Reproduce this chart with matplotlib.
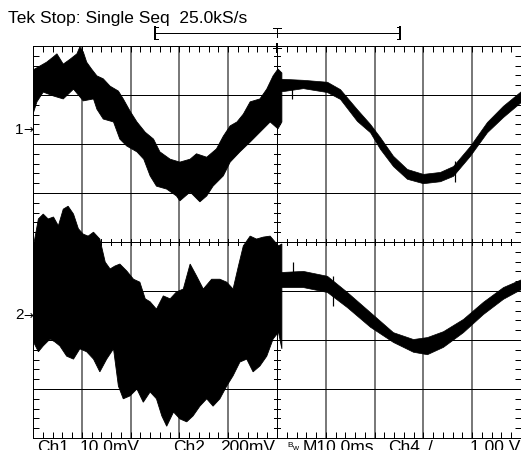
import matplotlib
matplotlib.use("Agg")
import matplotlib.pyplot as plt
import numpy as np
from matplotlib.lines import Line2D

# ---------------- data (time in ms, amplitude in screen divisions) ----------------
# Channel 1, noisy part (left half): upper and lower envelope
ch1_top_t = [-50.0, -48.6, -47.2, -45.8, -45.1, -43.8, -42.4, -41.0, -40.4, -39.7, -39.0,
             -38.0, -36.9, -35.6, -34.2, -32.5, -31.5, -30.1, -28.7, -27.0, -25.3, -24.0,
             -21.9, -19.9, -17.8, -16.5, -14.4, -12.4, -11.0, -9.6, -8.2, -6.9, -5.5,
             -3.5, -2.1, -0.8, 0.2, 1.0]
ch1_top_v = [3.51, 3.59, 3.67, 3.78, 3.84, 3.63, 3.73, 3.84, 3.98, 3.88, 3.67,
             3.53, 3.39, 3.33, 3.18, 3.08, 2.92, 2.67, 2.45, 2.24, 2.10, 1.84,
             1.69, 1.63, 1.69, 1.80, 1.73, 1.90, 2.16, 2.37, 2.45, 2.61, 2.86,
             2.92, 3.12, 3.39, 3.53, 3.45]
ch1_bot_t = [-50.0, -49.2, -47.9, -45.8, -43.8, -41.7, -39.7, -37.6, -36.9, -35.6, -33.5,
             -32.2, -30.8, -28.7, -27.3, -26.0, -24.7, -22.6, -20.6, -19.9, -17.8, -15.8,
             -14.4, -13.1, -11.0, -9.6, -7.6, -5.5, -3.5, -1.4, 0.2, 1.0]
ch1_bot_v = [2.61, 2.86, 3.06, 2.98, 2.92, 3.12, 2.88, 2.92, 2.71, 2.51, 2.45,
             2.10, 1.96, 1.84, 1.69, 1.35, 1.14, 1.08, 0.94, 0.84, 1.02, 0.82,
             0.94, 1.14, 1.35, 1.63, 1.84, 2.04, 2.24, 2.45, 2.31, 2.45]
# Channel 1, clean part (right half): band
ch1_clean_t = [0.6, 1.23, 5.33, 10.25, 12.91, 16.39, 19.06, 21.11, 23.77, 26.64, 29.92,
               33.40, 36.07, 39.55, 43.03, 46.31, 50.0]
ch1_clean_hi = [3.33, 3.33, 3.31, 3.27, 3.12, 2.71, 2.41, 2.14, 1.76, 1.49, 1.39,
                1.43, 1.55, 1.96, 2.45, 2.78, 3.08]
ch1_clean_lo = [3.08, 3.08, 3.14, 3.06, 2.92, 2.47, 2.24, 1.90, 1.55, 1.29, 1.20,
                1.24, 1.35, 1.76, 2.24, 2.55, 2.86]
ch1_spike_t = [3.1, 36.5]
ch1_spike_hi = [3.18, 1.65]
ch1_spike_lo = [2.92, 1.22]

# Channel 2, noisy part (left half): upper and lower envelope
ch2_top_t = [-49.9, -48.9, -47.9, -46.9, -45.8, -44.8, -43.8, -42.8, -41.7, -40.7, -39.7,
             -38.7, -37.6, -36.3, -35.2, -34.2, -33.2, -32.2, -30.8, -29.4, -28.1, -27.0,
             -26.0, -24.7, -23.3, -21.9, -20.6, -19.2, -17.8, -16.5, -15.1, -13.4, -11.7,
             -10.3, -9.0, -7.9, -6.9, -5.5, -4.2, -2.8, -1.4, 0.3, 1.0]
ch2_top_v = [-0.08, 0.47, 0.57, 0.47, 0.51, 0.33, 0.67, 0.73, 0.57, 0.27, 0.16,
             0.12, 0.20, 0.06, -0.41, -0.55, -0.49, -0.45, -0.59, -0.76, -0.82, -1.16,
             -1.22, -1.37, -1.10, -1.16, -1.02, -0.96, -0.45, -0.69, -0.96, -0.76, -0.76,
             -0.82, -0.96, -0.49, -0.08, 0.12, 0.06, 0.10, 0.12, -0.08, -0.04]
ch2_bot_t = [-49.9, -48.9, -47.9, -46.5, -45.5, -44.5, -43.1, -41.7, -40.4, -39.0, -37.6,
             -36.3, -34.9, -33.5, -32.5, -31.5, -30.1, -28.7, -27.4, -26.0, -24.7, -23.6,
             -22.6, -21.2, -19.9, -18.5, -17.2, -15.8, -14.4, -13.1, -11.7, -10.3, -9.0,
             -7.6, -6.2, -4.9, -3.5, -2.1, -0.8, 0.3, 1.0]
ch2_bot_v = [-2.04, -2.24, -2.12, -1.98, -2.04, -2.12, -2.33, -2.39, -2.18, -2.24, -2.39,
             -2.65, -2.39, -2.18, -2.94, -3.20, -3.14, -3.00, -3.27, -3.06, -3.20, -3.55,
             -3.76, -3.47, -3.61, -3.67, -3.55, -3.35, -3.20, -3.35, -3.20, -2.94, -2.73,
             -2.45, -2.39, -2.65, -2.53, -2.33, -1.98, -1.84, -2.18]
# Channel 2, clean part (right half): band
ch2_clean_t = [0.6, 1.23, 5.33, 10.25, 14.34, 19.06, 23.77, 27.87, 30.74, 34.02, 38.11,
               42.21, 46.31, 50.0]
ch2_clean_hi = [-0.61, -0.61, -0.59, -0.69, -1.02, -1.43, -1.84, -1.98, -1.94, -1.82, -1.57,
                -1.22, -0.92, -0.76]
ch2_clean_lo = [-0.92, -0.92, -0.92, -1.02, -1.33, -1.73, -2.04, -2.24, -2.29, -2.14, -1.84,
                -1.47, -1.16, -0.96]
ch2_spike_t = [3.3, 11.5]
ch2_spike_hi = [-0.41, -0.69]
ch2_spike_lo = [-0.80, -1.31]

ch_marker_level = [2.29, -1.49]
ch_marker_label = ["1", "2"]

bottom_labels = ["Ch1", "10.0mV", "Ch2", "200mV", "M10.0ms", "Ch4", "/", "1.00 V"]
bottom_label_px = [37, 80, 173, 220, 303, 388, 428, 470]
title_text = "Tek Stop: Single Seq  25.0kS/s"

# ---------------- figure ----------------
W, H = 521, 450
fig = plt.figure(figsize=(W / 100, H / 100), dpi=100)
fig.patch.set_facecolor("white")
L, R, T, B = 33, 521, 46, 438
ax = fig.add_axes([L / W, (H - B) / H, (R - L) / W, (B - T) / H])
ax.set_xlim(-50, 50)
ax.set_ylim(-4, 4)
ax.set_facecolor("white")

px = 0.72  # one pixel in points
for s in ax.spines.values():
    s.set_linewidth(px)
    s.set_color("black")

# graticule
for xv in np.arange(-40, 41, 10):
    if xv == 0:
        ax.axvline(xv, color="black", lw=px, zorder=1, antialiased=False)
    else:
        ax.axvline(xv, color="#7a7a7a", lw=1.5 * px, zorder=1, antialiased=False)
for yv in np.arange(-3, 4, 1):
    ax.axhline(yv, color="black", lw=px, zorder=1, antialiased=False)

ax.set_xticks(np.arange(-50, 50.01, 2))
ax.set_yticks(np.arange(-4, 4.01, 0.2))
ax.tick_params(direction="in", length=4, width=px, top=True, right=True,
               labelbottom=False, labelleft=False, color="black")
for xv in np.arange(-48, 50, 2):
    ax.plot([xv, xv], [-0.065, 0.065], color="black", lw=px, zorder=1, antialiased=False)
for yv in np.arange(-3.8, 4, 0.2):
    ax.plot([-0.6, 0.6], [yv, yv], color="black", lw=px, zorder=1, antialiased=False)


def noisy(ax, tt, tv, bt, bv):
    xs = list(tt) + list(bt)[::-1]
    ys = list(tv) + list(bv)[::-1]
    ax.fill(xs, ys, facecolor="black", edgecolor="black", lw=0.6, zorder=3)


# traces
noisy(ax, ch1_top_t, ch1_top_v, ch1_bot_t, ch1_bot_v)
ax.fill_between(ch1_clean_t, ch1_clean_lo, ch1_clean_hi, color="black", lw=0.5, zorder=3)
ax.vlines(ch1_spike_t, ch1_spike_lo, ch1_spike_hi, color="black", lw=1.2 * px, zorder=3)
noisy(ax, ch2_top_t, ch2_top_v, ch2_bot_t, ch2_bot_v)
ax.fill_between(ch2_clean_t, ch2_clean_lo, ch2_clean_hi, color="black", lw=0.5, zorder=3)
ax.vlines(ch2_spike_t, ch2_spike_lo, ch2_spike_hi, color="black", lw=1.2 * px, zorder=3)

# channel markers
for lvl, lab in zip(ch_marker_level, ch_marker_label):
    ax.annotate(lab, xy=(0, lvl), xycoords=("axes fraction", "data"),
                xytext=(-18, 0), textcoords="offset pixels",
                ha="left", va="center", fontsize=11, family="Liberation Sans",
                annotation_clip=False)
    ax.annotate("\u2192", xy=(0, lvl), xycoords=("axes fraction", "data"),
                xytext=(-10, 0), textcoords="offset pixels",
                ha="left", va="center", fontsize=8.5, family="DejaVu Sans",
                annotation_clip=False)

# header text and trigger bracket
fig.text(8 / W, 1 - 23 / H, title_text, ha="left", va="baseline",
         fontsize=12.5, family="Liberation Sans")
yb = 1 - 33 / H
fig.add_artist(Line2D([155 / W, 400 / W], [yb, yb], color="black", lw=px, transform=fig.transFigure))
for xe, d in [(155, 1), (400, -1)]:
    fig.add_artist(Line2D([xe / W, xe / W], [1 - 27 / H, 1 - 39 / H], color="black", lw=2 * px,
                          transform=fig.transFigure))
    fig.add_artist(Line2D([xe / W, (xe + 3 * d) / W], [1 - 27 / H, 1 - 27 / H], color="black", lw=px,
                          transform=fig.transFigure))
    fig.add_artist(Line2D([xe / W, (xe + 3 * d) / W], [1 - 39 / H, 1 - 39 / H], color="black", lw=px,
                          transform=fig.transFigure))
fig.add_artist(Line2D([273 / W, 281 / W], [1 - 28 / H, 1 - 28 / H], color="black", lw=px,
                      transform=fig.transFigure))
fig.add_artist(Line2D([277 / W, 277 / W], [1 - 28 / H, 1 - 37 / H], color="black", lw=px,
                      transform=fig.transFigure))
fig.add_artist(Line2D([277 / W, 277 / W], [1 - 44 / H, 1 - 52 / H], color="black", lw=2 * px,
                      transform=fig.transFigure))
fig.add_artist(Line2D([273 / W, 281 / W], [1 - 48 / H, 1 - 48 / H], color="black", lw=px,
                      transform=fig.transFigure))

# bottom readout (cut off at the lower edge, as on the instrument screenshot)
for lab, xp in zip(bottom_labels, bottom_label_px):
    fig.text(xp / W, -2 / H, lab, ha="left", va="baseline", fontsize=12.5,
             family="Liberation Sans")
fig.text(287 / W, 3 / H, "B", ha="left", va="baseline", fontsize=6, family="Liberation Sans")
fig.text(292 / W, 0 / H, "w", ha="left", va="baseline", fontsize=6, family="Liberation Sans")

fig.savefig("out.png", dpi=100)
